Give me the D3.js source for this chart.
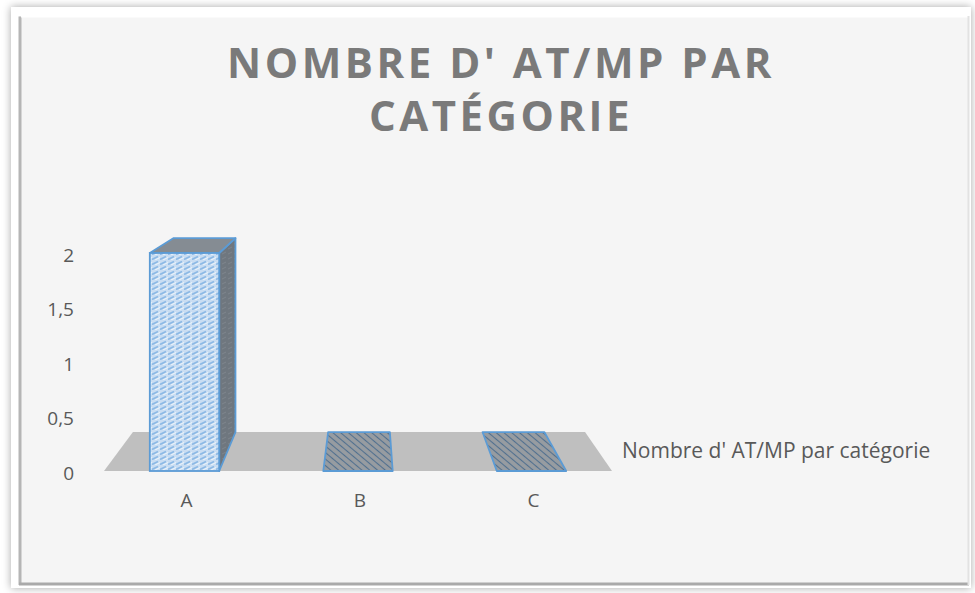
<!DOCTYPE html>
<html>
<head>
<meta charset="utf-8">
<script src="https://cdn.jsdelivr.net/npm/d3@7"></script>
<style>
  html, body { margin: 0; padding: 0; background: #fff; }
  svg { display: block; }
</style>
</head>
<body>
<script>
// chart data
var categories = ["A", "B", "C"],
    values = [2, 0, 0],
    tickValues = [0, 0.5, 1, 1.5, 2],
    seriesName = "Nombre d' AT/MP par catégorie",
    titleLines = ["NOMBRE D' AT/MP PAR", "CATÉGORIE"];

var width = 975,
    height = 593,
    vp = [367, 117],   // vanishing point of the 3d floor
    depth = 0.11;      // how far the back plane sits towards vp

var svg = d3.select("body").append("svg")
    .attr("width", width)
    .attr("height", height);

var defs = svg.append("defs");

// soft shadow round the outer frame
var f = defs.append("filter").attr("id", "shadow")
    .attr("x", "-5%").attr("y", "-5%").attr("width", "110%").attr("height", "110%");
f.append("feDropShadow").attr("dx", 0).attr("dy", 0)
    .attr("stdDeviation", 4).attr("flood-color", "#000").attr("flood-opacity", 0.35);

// front face: light blue dashed diagonals
var p1 = defs.append("pattern").attr("id", "front")
    .attr("patternUnits", "userSpaceOnUse").attr("width", 8).attr("height", 5);
p1.append("rect").attr("width", 8).attr("height", 5).attr("fill", "#c9ddf2");
p1.append("line").attr("x1", 0).attr("y1", 4.5).attr("x2", 6).attr("y2", 1.5)
    .attr("stroke", "#8cb9e5").attr("stroke-width", 1.6);
p1.append("line").attr("x1", 3).attr("y1", 5).attr("x2", 8).attr("y2", 2.5)
    .attr("stroke", "#eef5fc").attr("stroke-width", 1);

// top face / footprint: grey with dark blue hatch
var p2 = defs.append("pattern").attr("id", "top")
    .attr("patternUnits", "userSpaceOnUse").attr("width", 5).attr("height", 5)
    .attr("patternTransform", "rotate(40)");
p2.append("rect").attr("width", 5).attr("height", 5).attr("fill", "#979ca1");
p2.append("line").attr("x1", 0).attr("y1", 2.5).attr("x2", 5).attr("y2", 2.5)
    .attr("stroke", "#51708f").attr("stroke-width", 1.1);

// side face: darker grey
var p3 = defs.append("pattern").attr("id", "side")
    .attr("patternUnits", "userSpaceOnUse").attr("width", 6).attr("height", 5);
p3.append("rect").attr("width", 6).attr("height", 5).attr("fill", "#6f777f");
p3.append("line").attr("x1", 0).attr("y1", 4).attr("x2", 4).attr("y2", 2)
    .attr("stroke", "#7d858d").attr("stroke-width", 1);

// frame
svg.append("rect").attr("x", 11).attr("y", 7).attr("width", 960).attr("height", 581)
    .attr("fill", "#fff").attr("filter", "url(#shadow)");
svg.append("rect").attr("x", 19).attr("y", 16).attr("width", 950).attr("height", 569)
    .attr("fill", "#f5f5f5");
// bevel edges
svg.append("path").attr("d", "M20,585 L20,16.5")
    .attr("fill", "none").attr("stroke", "#b5b5b5").attr("stroke-width", 3);
svg.append("path").attr("d", "M21,16.5 L969,16.5")
    .attr("fill", "none").attr("stroke", "#fff").attr("stroke-width", 2);
svg.append("path").attr("d", "M19,584 L969,584")
    .attr("fill", "none").attr("stroke", "#a9a9a9").attr("stroke-width", 3);
svg.append("path").attr("d", "M968.5,16 L968.5,585")
    .attr("fill", "none").attr("stroke", "#e2e2e2").attr("stroke-width", 2);

// title
svg.append("text")
    .attr("x", 500).attr("y", 78)
    .attr("text-anchor", "middle")
    .style("font-family", "'Open Sans', sans-serif")
    .style("font-weight", "bold")
    .style("font-size", "42px")
    .style("letter-spacing", "3.5px")
    .attr("fill", "#7a7a7a")
  .selectAll("tspan")
  .data(titleLines)
  .enter().append("tspan")
    .attr("x", 501)
    .attr("dy", function(d, i) { return i ? 53 : 0; })
    .text(function(d) { return d; });

// scales
var x = d3.scaleBand().domain(categories).range([104, 612])
    .paddingInner(0.6).paddingOuter(0.264);
var y = d3.scaleLinear().domain([0, 2]).range([471, 253]);

function back(p) {
  return [p[0] + depth * (vp[0] - p[0]), p[1] + depth * (vp[1] - p[1])];
}
var line = d3.line();

// floor
var fl = [104, y(0)], fr = [612, y(0)];
svg.append("path")
    .attr("d", line([fl, fr, back(fr), back(fl)]) + "Z")
    .attr("fill", "#bfbfbf");

// bars
var bars = svg.append("g").selectAll("g")
    .data(categories.map(function(c, i) { return {cat: c, value: values[i]}; }))
    .enter().append("g");

bars.each(function(d) {
  var g = d3.select(this),
      x0 = x(d.cat), x1 = x0 + x.bandwidth(),
      yt = y(d.value), yb = y(0),
      ftl = [x0, yt], ftr = [x1, yt], fbl = [x0, yb], fbr = [x1, yb];

  if (d.value > 0) {
    // visible side face
    if (x1 < vp[0]) {
      g.append("path").attr("d", line([ftr, fbr, back(fbr), back(ftr)]) + "Z")
          .attr("fill", "url(#side)").attr("stroke", "#5b9bd5").attr("stroke-width", 1.8)
          .attr("stroke-linejoin", "round");
    } else if (x0 > vp[0]) {
      g.append("path").attr("d", line([ftl, fbl, back(fbl), back(ftl)]) + "Z")
          .attr("fill", "url(#side)").attr("stroke", "#5b9bd5").attr("stroke-width", 1.8)
          .attr("stroke-linejoin", "round");
    }
  }
  // top face (the footprint when value is 0)
  g.append("path").attr("d", line([ftl, ftr, back(ftr), back(ftl)]) + "Z")
      .attr("fill", d.value > 0 ? "#858c93" : "url(#top)")
      .attr("stroke", "#5b9bd5").attr("stroke-width", 1.8)
      .attr("stroke-linejoin", "round");
  if (d.value > 0) {
    g.append("rect").attr("x", x0).attr("y", yt)
        .attr("width", x1 - x0).attr("height", yb - yt)
        .attr("fill", "url(#front)").attr("stroke", "#5b9bd5").attr("stroke-width", 1.8);
  }
});

// value axis (labels only)
var fmt = d3.formatLocale({decimal: ",", thousands: " ", grouping: [3], currency: ["", "€"]}).format("~g");
var yAxis = svg.append("g")
    .attr("transform", "translate(74,2)")
    .call(d3.axisLeft(y).tickValues(tickValues).tickFormat(fmt).tickSize(0).tickPadding(0));
yAxis.select(".domain").remove();

// category axis
var xAxis = svg.append("g")
    .attr("transform", "translate(2," + y(0) + ")")
    .call(d3.axisBottom(x).tickSize(0).tickPadding(23));
xAxis.select(".domain").remove();

svg.selectAll(".tick text")
    .style("font-family", "'Open Sans', sans-serif")
    .style("font-size", "19px")
    .attr("fill", "#595959");

// legend
svg.append("text")
    .attr("x", 622).attr("y", 458)
    .style("font-family", "'Open Sans', sans-serif")
    .style("font-size", "21px")
    .attr("fill", "#595959")
    .text(seriesName);
</script>
</body>
</html>
